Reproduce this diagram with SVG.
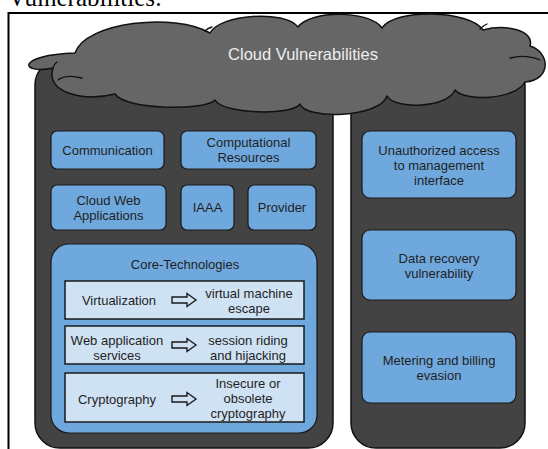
<svg xmlns="http://www.w3.org/2000/svg" xmlns:xlink="http://www.w3.org/1999/xlink" width="548" height="449" viewBox="0 0 548 449">
<style>
  .col { fill: #434343; stroke: #111; stroke-width: 1.5; }
  .cloud { fill: #666666; stroke: #111; stroke-width: 1.5; stroke-linejoin: round; }
  .tail { fill: none; stroke: #111; stroke-width: 1.3; stroke-linecap: round; }
  .box { fill: #6fa8dc; stroke: #1a1a1a; stroke-width: 1.2; }
  .row { fill: #cfe2f3; stroke: #1a1a1a; stroke-width: 1.5; }
  .t { font-family: "Liberation Sans", Arial, sans-serif; font-size: 13px; fill: #1f1f1f; text-anchor: middle; }
  .ct { font-family: "Liberation Sans", Arial, sans-serif; font-size: 16.5px; fill: #eeeeee; text-anchor: middle; }
  .arrow { fill: #cfe2f3; stroke: #1a1a1a; stroke-width: 1.4; stroke-linejoin: miter; }
</style>
<defs>
  <polygon id="harrow" class="arrow" points="0,-3 15,-3 15,-6.5 24,0 15,6.5 15,3 0,3"/>
</defs>
<rect width="548" height="449" fill="#ffffff"/>
<text x="8" y="6" font-family="'Liberation Serif', 'Times New Roman', serif" font-size="25" fill="#000">Vulnerabilities:</text>
<path d="M 8.5,449 V 13 H 548" fill="none" stroke="#000" stroke-width="2"/>

<g id="left-column"><rect class="col" x="35" y="60" width="298" height="388" rx="25"/></g>
<g id="right-column"><rect class="col" x="351" y="60" width="174" height="388" rx="25"/></g>

<g id="cloud">
  <path class="cloud" d="M 75,53 C 85,22 175,12 210,33 C 220,14 285,10 298,27 C 310,10 370,10 382,28 C 395,8 470,10 483,30 C 505,24 535,30 530,46 C 550,52 552,80 525,82 C 515,100 465,102 455,90 C 448,108 395,110 387,96 C 380,118 305,120 300,104 C 292,116 222,114 215,100 C 205,111 125,110 115,94 C 82,102 45,92 53,68 C 20,75 15,55 75,53 Z"/>
  <path class="tail" d="M 58,80 Q 66,74 82,78"/>
  <path class="tail" d="M 53,68 Q 54,64 57,62"/>
  <path class="tail" d="M 510,58 Q 526,54 540,60"/>
  <path class="tail" d="M 205,31 Q 208,28 212,27"/>
  <path class="tail" d="M 480,29 Q 484,25 487,24"/>
  <text class="ct" x="303" y="60">Cloud Vulnerabilities</text>
</g>

<g id="communication">
  <rect class="box" x="51" y="131" width="113" height="38" rx="6"/>
  <text class="t" x="107.5" y="154.5">Communication</text>
</g>
<g id="computational-resources">
  <rect class="box" x="181" y="131" width="135" height="38" rx="6"/>
  <text class="t" x="248.5" y="146.5">Computational</text>
  <text class="t" x="248.5" y="161.5">Resources</text>
</g>
<g id="cloud-web-applications">
  <rect class="box" x="51" y="185" width="115" height="45" rx="6"/>
  <text class="t" x="108.5" y="204.5">Cloud Web</text>
  <text class="t" x="108.5" y="219.5">Applications</text>
</g>
<g id="iaaa">
  <rect class="box" x="181" y="185" width="53" height="45" rx="6"/>
  <text class="t" x="207.5" y="211.5">IAAA</text>
</g>
<g id="provider">
  <rect class="box" x="248" y="185" width="68" height="45" rx="6"/>
  <text class="t" x="282" y="211.5">Provider</text>
</g>

<g id="core-technologies">
  <rect class="box" x="51" y="244" width="266" height="189" rx="18"/>
  <text class="t" x="185" y="268.5">Core-Technologies</text>
</g>
<g id="virtualization">
  <rect class="row" x="65" y="281" width="239" height="38"/>
  <text class="t" x="119" y="304.5">Virtualization</text>
  <text class="t" x="249" y="297.5">virtual machine</text>
  <text class="t" x="249" y="312.5">escape</text>
</g>
<g id="web-application-services">
  <rect class="row" x="65" y="326" width="239" height="38"/>
  <text class="t" x="117" y="344.5">Web application</text>
  <text class="t" x="117" y="359.5">services</text>
  <text class="t" x="248" y="344.5">session riding</text>
  <text class="t" x="248" y="359.5">and hijacking</text>
</g>
<g id="cryptography">
  <rect class="row" x="65" y="373" width="239" height="49"/>
  <text class="t" x="117" y="403.5">Cryptography</text>
  <text class="t" x="248" y="387.5">Insecure or</text>
  <text class="t" x="248" y="403">obsolete</text>
  <text class="t" x="248" y="418">cryptography</text>
</g>

<g id="unauthorized-access">
  <rect class="box" x="362" y="131" width="154" height="67" rx="8"/>
  <text class="t" x="439" y="154.5">Unauthorized access</text>
  <text class="t" x="439" y="169.5">to management</text>
  <text class="t" x="439" y="184.5">interface</text>
</g>
<g id="data-recovery">
  <rect class="box" x="362" y="230" width="154" height="70" rx="8"/>
  <text class="t" x="439" y="262.5">Data recovery</text>
  <text class="t" x="439" y="277.5">vulnerability</text>
</g>
<g id="metering-billing">
  <rect class="box" x="362" y="332" width="154" height="71" rx="8"/>
  <text class="t" x="439" y="364.5">Metering and billing</text>
  <text class="t" x="439" y="379.5">evasion</text>
</g>

<g id="connectors">
  <use xlink:href="#harrow" x="172" y="300"/>
  <use xlink:href="#harrow" x="172" y="345"/>
  <use xlink:href="#harrow" x="172" y="399"/>
</g>
</svg>
